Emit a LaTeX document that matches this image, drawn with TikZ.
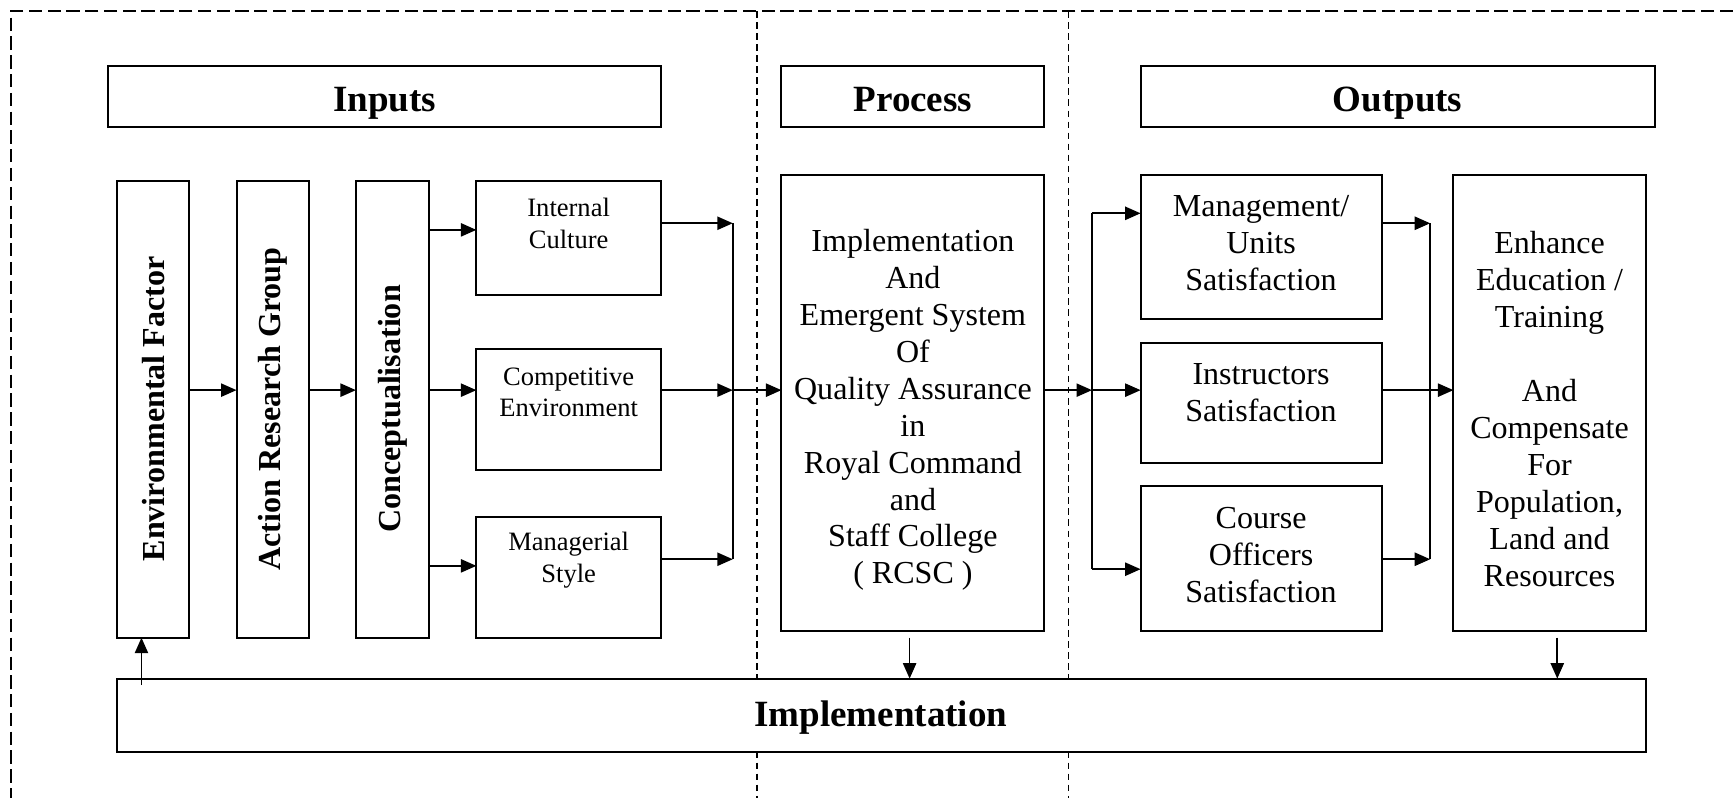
\documentclass[tikz,border=0pt]{standalone}
\usepackage{fontspec}
\setmainfont{Liberation Serif}
\usetikzlibrary{arrows.meta,calc}
\newcommand{\mkbox}[5]{%
  \node[box, minimum width={#4-#2}, minimum height={#5-#3}] (#1) at ({(#2+#4)/2},{(#3+#5)/2}) {};}
\begin{document}
\begin{tikzpicture}[x=1pt,y=-1pt,
  box/.style={draw, fill=white, line width=1.8pt, inner sep=0pt, outer sep=0pt},
  txt/.style={align=center, inner sep=0pt, font={\fontsize{29}{33.4}\selectfont}},
  smalltxt/.style={align=center, inner sep=0pt, font={\fontsize{24}{28.5}\selectfont}},
  hdr/.style={inner sep=0pt, anchor=base, font={\bfseries\fontsize{33.5}{38}\selectfont}},
  vtxt/.style={inner sep=0pt, rotate=90, font={\bfseries\fontsize{29}{33}\selectfont}},
  arr/.style={line width=1.5pt, -{Triangle[length=14pt,width=12pt]}},
  ln/.style={line width=1.5pt},
  outerdash/.style={line width=1.1pt, dash pattern=on 12pt off 5pt},
  innerdash/.style={line width=1.1pt, dash pattern=on 6pt off 4pt}]
\useasboundingbox (0,0) rectangle (1568,722);
% frame and column separators
\draw[outerdash] (1568,10) -- (10,10) -- (10,722);
\draw[innerdash] (685,10) -- (685,722);
\draw[innerdash] (967,10) -- (967,722);
% boxes
\mkbox{inH}{98}{60}{598}{115}
\mkbox{prH}{707}{60}{945}{115}
\mkbox{outH}{1032}{60}{1497}{115}
\mkbox{env}{106}{164}{171}{577}
\mkbox{arg}{214}{164}{280}{577}
\mkbox{conc}{322}{164}{388}{577}
\mkbox{ic}{431}{164}{598}{267}
\mkbox{ce}{431}{316}{598}{425}
\mkbox{ms}{431}{468}{598}{577}
\mkbox{proc}{707}{158}{945}{571}
\mkbox{mu}{1032}{158}{1250}{289}
\mkbox{ins}{1032}{310}{1250}{419}
\mkbox{co}{1032}{440}{1250}{571}
\mkbox{enh}{1315}{158}{1489}{571}
\mkbox{impl}{106}{614}{1489}{680}
% texts
\node[hdr] (inT) at (348,101) {Inputs};
\node[hdr] (prT) at (826,101) {Process};
\node[hdr] (outT) at (1264.5,101) {Outputs};
\node[hdr] (implT) at (797,657) {Implementation};
\node[vtxt] (envT) at (138.5,370) {Environmental Factor};
\node[vtxt] (argT) at (247,370) {Action Research Group};
\node[vtxt] (concT) at (355,370) {Conceptualisation};
\node[smalltxt] (icT) at (514.5,202) {Internal\\Culture};
\node[smalltxt] (ceT) at (514.5,355) {Competitive\\Environment};
\node[smalltxt] (msT) at (514.5,507) {Managerial\\Style};
\node[txt] (procT) at (826,371) {Implementation\\And\\Emergent System\\Of\\Quality Assurance\\in\\Royal Command\\and\\Staff College\\( RCSC )};
\node[txt] (muT) at (1141,220) {Management/\\Units\\Satisfaction};
\node[txt] (insT) at (1141,355) {Instructors\\Satisfaction};
\node[txt] (coT) at (1141,502) {Course\\Officers\\Satisfaction};
\node[txt] (enhT) at (1402,370) {Enhance\\Education /\\Training\\[33.4pt]And\\Compensate\\For\\Population,\\Land and\\Resources};
% junction coordinates
\coordinate (jinT) at (663,202);
\coordinate (jinM) at (663,353);
\coordinate (jinB) at (663,506);
\coordinate (joT) at (988,193);
\coordinate (joM) at (988,353);
\coordinate (joB) at (988,515);
\coordinate (kT) at (1294,202);
\coordinate (kM) at (1294,353);
\coordinate (kB) at (1294,506);
\coordinate (pd) at (823,577);
\coordinate (ed) at (1409,577);
\coordinate (eu) at (128,620);
% input chain
\draw[arr] (env.east |- jinM) -- (arg.west |- jinM);
\draw[arr] (arg.east |- jinM) -- (conc.west |- jinM);
\draw[arr] (conc.east |- 0,208) -- (ic.west |- 0,208);
\draw[arr] (conc.east |- jinM) -- (ce.west |- jinM);
\draw[arr] (conc.east |- 0,512) -- (ms.west |- 0,512);
\draw[arr] (ic.east |- jinT) -- (jinT);
\draw[arr] (ce.east |- jinM) -- (jinM);
\draw[arr] (ms.east |- jinB) -- (jinB);
\draw[ln] (jinT) -- (jinB);
\draw[arr] (jinM) -- (proc.west |- jinM);
% outputs
\draw[arr] (proc.east |- joM) -- (joM);
\draw[ln] (joT) -- (joB);
\draw[arr] (joT) -- (mu.west |- joT);
\draw[arr] (joM) -- (ins.west |- joM);
\draw[arr] (joB) -- (co.west |- joB);
\draw[arr] (mu.east |- kT) -- (kT);
\draw[arr] (co.east |- kB) -- (kB);
\draw[ln] (kT) -- (kB);
\draw[arr] (ins.east |- kM) -- (enh.west |- kM);
% implementation links
\draw[arr] (pd) -- (impl.north -| pd);
\draw[arr] (ed) -- (impl.north -| ed);
\draw[arr] (eu) -- (env.south -| eu);
\end{tikzpicture}
\end{document}
